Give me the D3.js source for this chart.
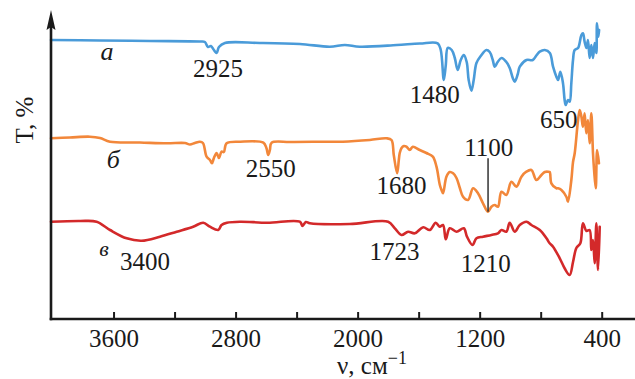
<!DOCTYPE html>
<html>
<head>
<meta charset="utf-8">
<script src="https://cdn.jsdelivr.net/npm/d3@7/dist/d3.min.js"></script>
<style>
  html, body { margin: 0; padding: 0; background: #fff; }
  svg { display: block; }
  text { font-family: "Liberation Serif", "Times New Roman", "DejaVu Serif", serif; fill: #1a1a1a; }
</style>
</head>
<body>
<svg id="chart" width="635" height="379"></svg>
<script>
// ---- Data (wavenumber, cm^-1 ; transmittance, arbitrary offset units) ----
const waveA = [4010,3689,3361,3034,3001,2981,2962,2942,2924,2909,2870,2641,2379,2182,2084,1986,1743,1592,1475,1455,1435,1422,1409,1383,1363,1344,1324,1304,1285,1272,1254,1239,1221,1193,1156,1134,1114,1101,1082,1057,1025,1003,983,970,950,937,893,852,826,806,773,740,719,697,686,671,654,643,636,621,610,599,588,577,555,533,523,512,500,490,479,468,457,446,435,431,422,417];
const transA = [279,278.5,278,277.5,277,272,273,269,266,272,276,276,275,272.3,274,272.3,274,275.5,275.7,269,239,254,271,269,261,249,259,264,257,239,228.3,239,256,263,269,267,259,252.3,257,261,257,251,241,237.3,245,252.3,259,259,264,267.3,269,266,252.3,242.3,239,247.3,236,219,214,219,217.3,236,259,269,271,284,285.7,277.3,271,279,261,274,261,276,266,295.7,282.3,289];

const waveB = [4010,3886,3755,3689,3623,3427,3250,3132,3099,3067,3034,3014,2990,2968,2955,2942,2924,2909,2892,2877,2859,2769,2618,2598,2586,2575,2564,2444,2294,2097,1920,1811,1778,1763,1741,1730,1724,1712,1697,1680,1658,1638,1593,1549,1507,1483,1461,1450,1440,1418,1396,1374,1352,1330,1309,1276,1243,1211,1178,1145,1123,1101,1080,1057,1025,992,959,926,894,861,828,795,773,752,741,730,697,686,664,631,621,599,588,577,555,544,533,523,512,501,490,479,468,457,450,439,430,418];
const transB = [180.7,181.5,182.3,181,177.3,176.5,175.7,176,174.5,176,177.3,176,162.3,159,155.7,161,166,161,167.3,167,175.7,177.3,176.3,171,164,169,176.3,177,177.3,177.3,179,180.7,179,164,145.7,159,166,171,173,172.3,169,172.3,169,166,162.3,152.3,134,129,125.7,142.3,147,145.7,141,131,122.3,119,130.7,125.7,115.7,107.3,112.3,114,112.3,127.3,124,137.3,132.3,142.3,147.3,149,139,144,147,147.3,147,135.7,130.7,130.7,129,122,117.3,139,157,165.7,199,209,202.3,192.3,205.7,185.7,199,175.7,205.7,165.7,149,130.7,169,155.7];

const waveC = [4010,3820,3711,3623,3514,3416,3296,3186,3078,3012,2968,2914,2892,2857,2769,2592,2379,2361,2340,2313,2051,1800,1756,1712,1669,1625,1570,1527,1488,1462,1440,1422,1396,1352,1304,1283,1247,1221,1178,1123,1080,1057,1025,1003,970,937,893,861,806,762,741,719,675,643,610,588,566,540,523,500,479,468,457,446,435,424,413];
const transC = [97.3,98,97.3,89,80.7,78.3,82.3,87.3,92.3,96.3,92.3,89,94,96.3,97.3,96.3,97.3,93,97,95.7,95,97.3,90.7,84,87.3,85.7,91.7,89,96.3,92.3,94,79.7,90.7,87.3,90.7,82.3,74,80.7,82.3,84,85.7,89,87.3,96.3,87.3,94,97.3,94,89,80.7,75.7,72.3,60.7,50.7,44,57,71,75.7,95.7,88,89,69,79,55.7,95.7,49,92.3];

const xTicks = [3600,3200,2800,2400,2000,1600,1200,800,400];
const xTickLabels = ["3600","","2800","","2000","","1200","","400"];

const seriesNames = ["а","б","в"];
const seriesColors = ["#4a9bd9","#f2873a","#d3292a"];

const peakLabels = ["2925","1480","650","2550","1680","1100","3400","1723","1210"];
const peakWave   = [2916,1494,682,2569,1712,1140,3394,1758,1160];
const peakT      = [242,216,191.3,142.3,125,163,49,59,47.3];

const nameWave = [3643,3601,3663];
const nameT    = [259,151,63];

const leaderWave = 1145;
const leaderT = [160.7,107.3];

// ---- Scales ----
const svg = d3.select("#chart");
const x = d3.scaleLinear().domain([4010, 400]).range([51, 601.7]);
const y = d3.scaleLinear().domain([0, 308]).range([319, 11]);

// ---- Curves ----
const seriesData = [
  d3.zip(waveA, transA),
  d3.zip(waveB, transB),
  d3.zip(waveC, transC)
];
const line = d3.line()
  .x(d => x(d[0]))
  .y(d => y(d[1]))
  .curve(d3.curveCatmullRom.alpha(0.5));

svg.append("g").selectAll("path")
  .data(seriesData)
  .join("path")
  .attr("d", line)
  .attr("fill", "none")
  .attr("stroke", (d, i) => seriesColors[i])
  .attr("stroke-width", 2.6)
  .attr("stroke-linejoin", "round")
  .attr("stroke-linecap", "round");

// ---- Axes ----
const xAxis = d3.axisBottom(x)
  .tickValues(xTicks)
  .tickSize(-7)
  .tickFormat((d, i) => xTickLabels[i]);
const gx = svg.append("g").attr("transform", "translate(0,319)").call(xAxis);
gx.attr("font-family", null).attr("font-size", null);
gx.select(".domain").remove();
gx.selectAll(".tick line").attr("stroke", "#1a1a1a").attr("stroke-width", 2);
gx.selectAll(".tick text")
  .attr("y", 0).attr("dy", 28)
  .style("font-size", "25px")
  .attr("fill", "#1a1a1a");

svg.append("line")
  .attr("x1", 49.7).attr("x2", 635).attr("y1", 319).attr("y2", 319)
  .attr("stroke", "#1a1a1a").attr("stroke-width", 2.6);
svg.append("line")
  .attr("x1", 51).attr("x2", 51).attr("y1", 26).attr("y2", 320.3)
  .attr("stroke", "#1a1a1a").attr("stroke-width", 2.6);
svg.append("path")
  .attr("d", "M51,10 L46.5,30 L51,27 L55.5,30 Z")
  .attr("fill", "#1a1a1a");

// ---- Axis titles ----
const xt = svg.append("text")
  .attr("x", 337).attr("y", 374)
  .style("font-size", "25px");
xt.append("tspan").text("ν, см");
xt.append("tspan").attr("dy", -10).style("font-size", "18px").text("−1");

svg.append("text")
  .attr("transform", "translate(33,120) rotate(-90)")
  .attr("text-anchor", "middle")
  .style("font-size", "25px")
  .text("T, %");

// ---- Series names ----
svg.append("g").selectAll("text")
  .data(seriesNames)
  .join("text")
  .attr("x", (d, i) => x(nameWave[i]))
  .attr("y", (d, i) => y(nameT[i]))
  .attr("text-anchor", "middle")
  .style("font-size", (d, i) => i === 2 ? "22px" : "26px")
  .style("font-style", "italic")
  .text(d => d);

// ---- Peak labels ----
svg.append("g").selectAll("text")
  .data(peakLabels)
  .join("text")
  .attr("x", (d, i) => x(peakWave[i]))
  .attr("y", (d, i) => y(peakT[i]))
  .attr("text-anchor", "middle")
  .style("font-size", "25px")
  .text(d => d);

svg.append("line")
  .attr("x1", x(leaderWave)).attr("x2", x(leaderWave))
  .attr("y1", y(leaderT[0])).attr("y2", y(leaderT[1]))
  .attr("stroke", "#333").attr("stroke-width", 1.5);
</script>
</body>
</html>
